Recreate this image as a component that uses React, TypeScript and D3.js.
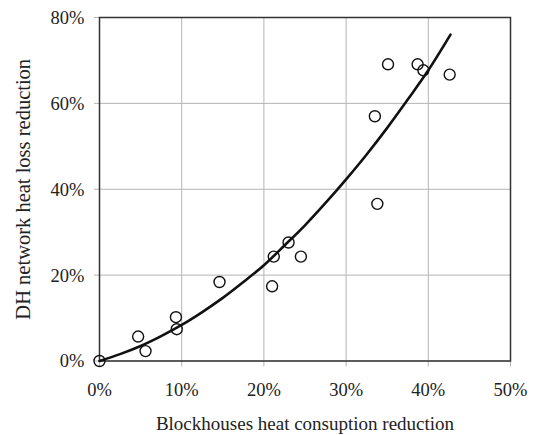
import { useEffect, useRef } from 'react';
import * as d3 from 'd3';

// measured points (x: blockhouse heat consumption reduction %, y: DH network heat loss reduction %)
const pointX = [0, 4.7, 5.6, 9.3, 9.4, 14.6, 21.0, 21.2, 23.0, 24.5, 33.8, 33.5, 35.1, 38.7, 39.4, 42.6];
const pointY = [0, 5.7, 2.3, 10.2, 7.4, 18.4, 17.4, 24.3, 27.6, 24.3, 36.6, 57.0, 69.1, 69.1, 67.7, 66.7];

// trend line
const curveX = [0, 2.5, 5, 7.5, 10, 12.5, 15, 17.5, 20, 22.5, 25, 27.5, 30, 32.5, 35, 37.5, 40, 42.7];
const curveY = [0, 1.6, 3.5, 5.8, 8.4, 11.4, 14.7, 18.4, 22.3, 26.9, 31.6, 36.8, 42.3, 48.1, 54.3, 60.9, 67.7, 76];

const xTicks = [0, 10, 20, 30, 40, 50];
const yTicks = [0, 20, 40, 60, 80];

export default function App() {
  const svgRef = useRef<SVGSVGElement>(null);

  useEffect(() => {
    if (!svgRef.current) return;
    const width = 535;
    const height = 435;
    const margin = { top: 17.5, right: 24.5, bottom: 74, left: 99.5 };
    const innerW = width - margin.left - margin.right;
    const innerH = height - margin.top - margin.bottom;
    const font = '"Liberation Serif", "Times New Roman", serif';

    const svg = d3.select(svgRef.current);
    svg.selectAll('*').remove();
    svg.attr('width', width).attr('height', height);

    const g = svg.append('g').attr('transform', `translate(${margin.left},${margin.top})`);

    const x = d3.scaleLinear().domain([0, 50]).range([0, innerW]);
    const y = d3.scaleLinear().domain([0, 80]).range([innerH, 0]);

    // grid
    xTicks.forEach(v => {
      g.append('line')
        .attr('x1', x(v)).attr('x2', x(v))
        .attr('y1', 0).attr('y2', innerH + 5.5)
        .attr('stroke', '#b4b4b4').attr('stroke-width', 1);
    });
    yTicks.forEach(v => {
      g.append('line')
        .attr('x1', -5.5).attr('x2', innerW)
        .attr('y1', y(v)).attr('y2', y(v))
        .attr('stroke', '#b4b4b4').attr('stroke-width', 1);
    });

    // frame
    g.append('rect')
      .attr('x', 0).attr('y', 0)
      .attr('width', innerW).attr('height', innerH)
      .attr('fill', 'none')
      .attr('stroke', '#333').attr('stroke-width', 1.5);

    // tick labels
    g.append('g')
      .selectAll('text')
      .data(xTicks)
      .enter()
      .append('text')
      .attr('x', d => x(d))
      .attr('y', innerH + 35)
      .attr('text-anchor', 'middle')
      .attr('font-family', font)
      .attr('font-size', 18.5)
      .attr('fill', '#222')
      .text(d => `${d}%`);

    g.append('g')
      .selectAll('text')
      .data(yTicks)
      .enter()
      .append('text')
      .attr('x', -15)
      .attr('y', d => y(d))
      .attr('dy', '0.35em')
      .attr('text-anchor', 'end')
      .attr('font-family', font)
      .attr('font-size', 18.5)
      .attr('fill', '#222')
      .text(d => `${d}%`);

    // axis titles
    g.append('text')
      .attr('x', innerW / 2)
      .attr('y', innerH + 69)
      .attr('text-anchor', 'middle')
      .attr('font-family', font)
      .attr('font-size', 19)
      .attr('fill', '#222')
      .text('Blockhouses heat consuption reduction');

    g.append('text')
      .attr('transform', `translate(${-70},${innerH / 2}) rotate(-90)`)
      .attr('text-anchor', 'middle')
      .attr('font-family', font)
      .attr('font-size', 20.5)
      .attr('fill', '#222')
      .text('DH network heat loss reduction');

    // points
    g.append('g')
      .selectAll('circle')
      .data(pointX.map((v, i) => ({ x: v, y: pointY[i] })))
      .enter()
      .append('circle')
      .attr('cx', d => x(d.x))
      .attr('cy', d => y(d.y))
      .attr('r', 5.5)
      .attr('fill', 'none')
      .attr('stroke', '#111')
      .attr('stroke-width', 1.4);

    // trend line
    const line = d3.line<{ x: number; y: number }>()
      .x(d => x(d.x))
      .y(d => y(d.y))
      .curve(d3.curveMonotoneX);

    g.append('path')
      .datum(curveX.map((v, i) => ({ x: v, y: curveY[i] })))
      .attr('d', line)
      .attr('fill', 'none')
      .attr('stroke', '#111')
      .attr('stroke-width', 2.6)
      .attr('stroke-linecap', 'round')
      .attr('stroke-linejoin', 'round');
  }, []);

  return (
    <div style={{ position: 'absolute', left: 0, top: 0, background: '#fff' }}>
      <svg ref={svgRef} style={{ display: 'block' }} />
    </div>
  );
}
